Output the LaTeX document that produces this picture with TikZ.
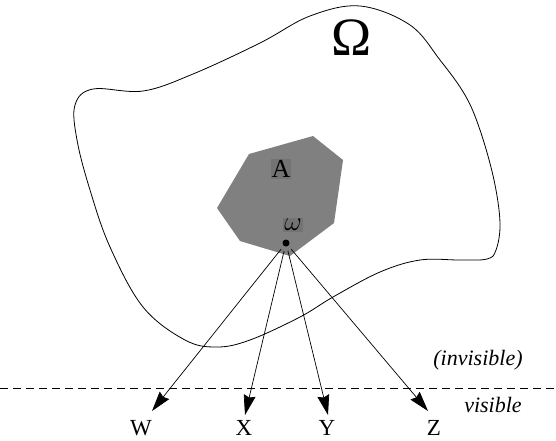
\documentclass[tikz,border=0pt]{standalone}
\usepackage{fix-cm}
\usepackage{fontspec}
\setmainfont{Liberation Serif}
\usetikzlibrary{arrows.meta}
\begin{document}
\begin{tikzpicture}[x=1pt,y=-1pt,
  lbl/.style={inner sep=1pt, font=\fontsize{23}{25}\selectfont},
  arr/.style={-{Stealth[length=20pt,width=12pt,inset=2pt]}, line width=0.7pt, shorten <=8pt},
  side/.style={font=\fontsize{22}{24}\selectfont\itshape}]
\useasboundingbox (0,0) rectangle (556,440);
% Omega region
\draw[line width=0.8pt] plot[smooth cycle, tension=0.6] coordinates {
 (93,89) (143,91) (193,74) (260,43) (310,16) (360,6) (410,25) (440,60)
 (465,95) (480,130) (494,180) (500,223) (496,250) (487,259) (460,260)
 (420,260) (380,272) (333,297) (300,317) (250,340) (217,347) (185,340)
 (143,307) (110,247) (90,190) (77,140) (75,105)};
\node[inner sep=0pt, font=\fontsize{54}{58}\selectfont] (Om) at (352,38) {Ω};
% set A
\fill[gray] (249,154) -- (313,136) -- (343,160) -- (334,223) -- (290,256) -- (240,241) -- (217,208) -- cycle;
\node[inner sep=1pt, fill=black!55, font=\fontsize{26}{28}\selectfont] (A) at (281,169) {A};
\node[inner sep=1pt, fill=black!55, font=\fontsize{27}{29}\selectfont] (om) at (293,225) {$\omega$};
\node[circle, fill=black, inner sep=0pt, minimum size=7pt] (dot) at (286,243) {};
% labels
\node[lbl] (W) at (141,428) {W};
\node[lbl] (X) at (244,428) {X};
\node[lbl] (Y) at (327,428) {Y};
\node[lbl] (Z) at (434,428) {Z};
\coordinate (tW) at (152,411);
\coordinate (tX) at (245,415);
\coordinate (tY) at (328,415);
\coordinate (tZ) at (428,411);
\draw[arr] (dot.center) -- (tW);
\draw[arr] (dot.center) -- (tX);
\draw[arr] (dot.center) -- (tY);
\draw[arr] (dot.center) -- (tZ);
% dashed line
\coordinate (dl) at (0,388);
\coordinate (dr) at (556,388);
\draw[dashed, dash pattern=on 8pt off 5pt, line width=0.6pt] (dl) -- (dr);
\node[side] (inv) at (478,360) {(invisible)};
\node[side] (vis) at (493,405) {visible};
\end{tikzpicture}
\end{document}
